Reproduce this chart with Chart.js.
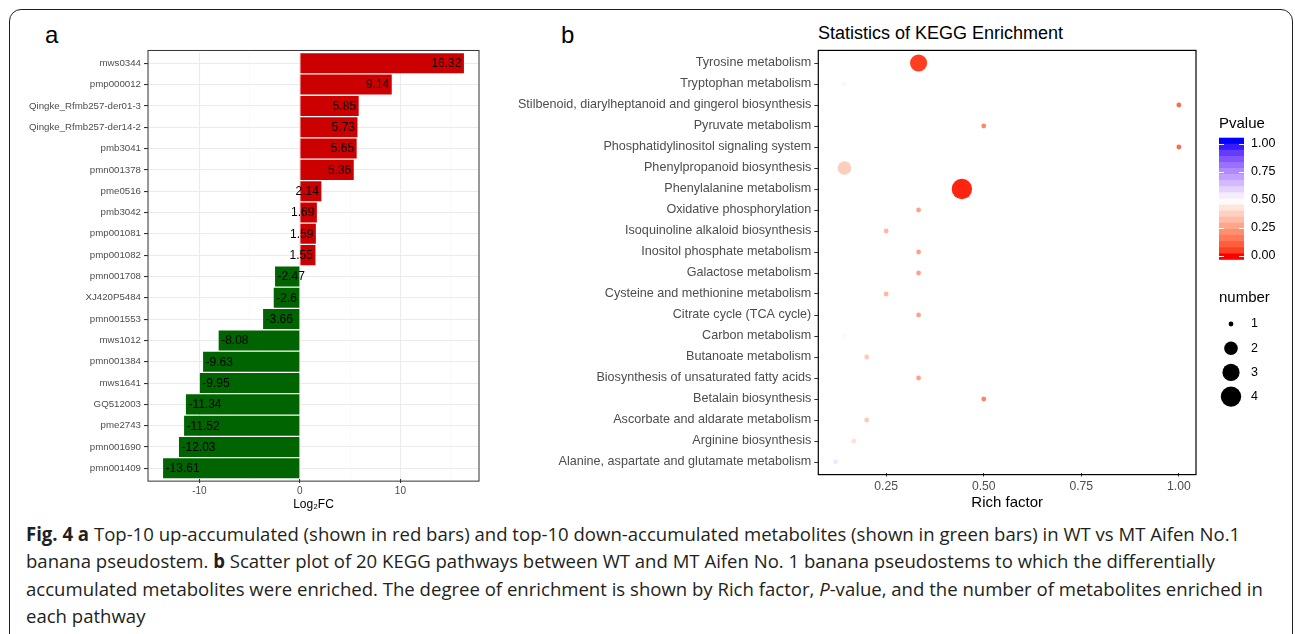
<!DOCTYPE html>
<html>
<head>
<meta charset="utf-8">
<script src="https://cdn.jsdelivr.net/npm/chart.js@4"></script>
<style>
  body { margin: 0; width: 1295px; height: 634px; overflow: hidden; background: #fff; position: relative;
         font-family: "Liberation Sans", Arial, sans-serif; }
  #frame { position: absolute; left: 9px; top: 8.5px; width: 1284px; height: 640px; box-sizing: border-box;
           border: 1.5px solid #231f20; border-radius: 12px; }
  .panel-lab { position: absolute; font-size: 24px; line-height: 24px; color: #000; }
  #titleB { position: absolute; left: 818px; top: 24px; font-size: 18px; line-height: 18px; color: #000; white-space: nowrap; }
  canvas { position: absolute; }
  #caption { position: absolute; left: 26px; top: 521px; font-family: "Open Sans", sans-serif; font-size: 19px;
             line-height: 27.3px; color: #231f20; white-space: nowrap; transform-origin: 0 0; transform: scaleX(0.9775); }
  #caption span { display: inline-block; }
</style>
</head>
<body>
<div id="frame"></div>
<div class="panel-lab" style="left:45px; top:22.7px;">a</div>
<div class="panel-lab" style="left:561px; top:22.7px;">b</div>
<div id="titleB">Statistics of KEGG Enrichment</div>
<canvas id="barA" width="495" height="480" style="left:0; top:40px;"></canvas>
<canvas id="dotB" width="795" height="480" style="left:500px; top:40px;"></canvas>
<div id="caption">
  <div><span id="cap1"><b>Fig. 4 a</b> Top-10 up-accumulated (shown in red bars) and top-10 down-accumulated metabolites (shown in green bars) in WT vs MT Aifen No.1</span></div>
  <div><span>banana pseudostem. <b>b</b> Scatter plot of 20 KEGG pathways between WT and MT Aifen No. 1 banana pseudostems to which the differentially</span></div>
  <div><span>accumulated metabolites were enriched. The degree of enrichment is shown by Rich factor, <i>P</i>-value, and the number of metabolites enriched in</span></div>
  <div><span>each pathway</span></div>
</div>
<script>
// ---- panel a data ----
const metabolites = ["mws0344", "pmp000012", "Qingke_Rfmb257-der01-3", "Qingke_Rfmb257-der14-2", "pmb3041",
  "pmn001378", "pme0516", "pmb3042", "pmp001081", "pmp001082", "pmn001708", "XJ420P5484", "pmn001553",
  "mws1012", "pmn001384", "mws1641", "GQ512003", "pme2743", "pmn001690", "pmn001409"];
const log2fc = [16.32, 9.14, 5.85, 5.73, 5.65, 5.36, 2.14, 1.69, 1.59, 1.55,
  -2.47, -2.6, -3.66, -8.08, -9.63, -9.95, -11.34, -11.52, -12.03, -13.61];
const gridTicksA = [-15, -10, -5, 0, 5, 10, 15];
const labelTicksA = [-10, 0, 10];

// ---- panel b data ----
const pathways = ["Tyrosine metabolism", "Tryptophan metabolism",
  "Stilbenoid, diarylheptanoid and gingerol biosynthesis", "Pyruvate metabolism",
  "Phosphatidylinositol signaling system", "Phenylpropanoid biosynthesis", "Phenylalanine metabolism",
  "Oxidative phosphorylation", "Isoquinoline alkaloid biosynthesis", "Inositol phosphate metabolism",
  "Galactose metabolism", "Cysteine and methionine metabolism", "Citrate cycle (TCA cycle)",
  "Carbon metabolism", "Butanoate metabolism", "Biosynthesis of unsaturated fatty acids",
  "Betalain biosynthesis", "Ascorbate and aldarate metabolism", "Arginine biosynthesis",
  "Alanine, aspartate and glutamate metabolism"];
const richFactor = [0.333, 0.143, 1.0, 0.5, 1.0, 0.143, 0.444, 0.333, 0.25, 0.333,
  0.333, 0.25, 0.333, 0.143, 0.2, 0.333, 0.5, 0.2, 0.167, 0.12];
const pValue = [0.05, 0.48, 0.13, 0.19, 0.13, 0.37, 0.02, 0.26, 0.31, 0.26,
  0.26, 0.31, 0.26, 0.48, 0.36, 0.26, 0.19, 0.36, 0.42, 0.55];
const numberHits = [3, 1, 1, 1, 1, 2, 4, 1, 1, 1, 1, 1, 1, 1, 1, 1, 1, 1, 1, 1];
const xTicksB = [0.25, 0.5, 0.75, 1.0];
const pTicks = [0, 0.25, 0.5, 0.75, 1.0];
const numberKeys = [1, 2, 3, 4];

const FONT = '"Liberation Sans", Arial, sans-serif';
const RADIUS = {1: 2.4, 2: 6.8, 3: 8.6, 4: 10.2};

// red - white - blue gradient through Lab, like ggplot's gradient2
function lin(c) { c /= 255; return c <= 0.04045 ? c / 12.92 : Math.pow((c + 0.055) / 1.055, 2.4); }
function unlin(c) { c = c <= 0.0031308 ? 12.92 * c : 1.055 * Math.pow(c, 1 / 2.4) - 0.055; return Math.round(Math.max(0, Math.min(1, c)) * 255); }
function toLab(rgb) {
  const r = lin(rgb[0]), g = lin(rgb[1]), b = lin(rgb[2]);
  const X = (0.4124 * r + 0.3576 * g + 0.1805 * b) / 0.95047, Y = 0.2126 * r + 0.7152 * g + 0.0722 * b,
        Z = (0.0193 * r + 0.1192 * g + 0.9505 * b) / 1.08883;
  const f = t => t > 0.008856 ? Math.cbrt(t) : 7.787 * t + 16 / 116;
  return [116 * f(Y) - 16, 500 * (f(X) - f(Y)), 200 * (f(Y) - f(Z))];
}
function fromLab(L, a, bb) {
  const fy = (L + 16) / 116, fx = fy + a / 500, fz = fy - bb / 200;
  const fi = t => t * t * t > 0.008856 ? t * t * t : (t - 16 / 116) / 7.787;
  const X = 0.95047 * fi(fx), Y = fi(fy), Z = 1.08883 * fi(fz);
  return 'rgb(' + unlin(3.2406 * X - 1.5372 * Y - 0.4986 * Z) + ',' + unlin(-0.9689 * X + 1.8758 * Y + 0.0415 * Z) + ','
    + unlin(0.0557 * X - 0.2040 * Y + 1.0570 * Z) + ')';
}
const LAB_LOW = toLab([255, 0, 0]), LAB_MID = toLab([255, 255, 255]), LAB_HIGH = toLab([0, 0, 255]);
function pColour(p) {
  p = Math.max(0, Math.min(1, p));
  const from = p <= 0.5 ? LAB_LOW : LAB_MID, to = p <= 0.5 ? LAB_MID : LAB_HIGH;
  const t = p <= 0.5 ? p / 0.5 : (p - 0.5) / 0.5;
  return fromLab(from[0] + (to[0] - from[0]) * t, from[1] + (to[1] - from[1]) * t, from[2] + (to[2] - from[2]) * t);
}

// panel border, stretched a little past the category offset like ggplot's 0.6 expansion
function framePlugin(colour, width) {
  return {
    id: 'frame',
    afterDatasetsDraw(chart) {
      const a = chart.chartArea, ctx = chart.ctx;
      const ext = 0.1 * (a.bottom - a.top) / chart.scales.y.ticks.length;
      ctx.save();
      ctx.strokeStyle = colour; ctx.lineWidth = width;
      ctx.strokeRect(a.left, a.top - ext, a.right - a.left, a.bottom - a.top + 2 * ext);
      ctx.restore();
    }
  };
}

const barValueLabels = {
  id: 'barValueLabels',
  afterDatasetsDraw(chart) {
    const ctx = chart.ctx;
    ctx.save();
    ctx.font = '12px ' + FONT; ctx.fillStyle = '#000'; ctx.textBaseline = 'middle';
    chart.getDatasetMeta(0).data.forEach((bar, i) => {
      const v = log2fc[i];
      ctx.textAlign = v > 0 ? 'right' : 'left';
      ctx.fillText(String(v), bar.x + (v > 0 ? -2.5 : 2.5), bar.y + 0.5);
    });
    ctx.restore();
  }
};

new Chart(document.getElementById('barA'), {
  type: 'bar',
  data: {
    labels: metabolites,
    datasets: [{
      data: log2fc,
      backgroundColor: log2fc.map(v => v > 0 ? '#CC0000' : '#006400'),
      borderWidth: 0, barPercentage: 0.94, categoryPercentage: 1
    }]
  },
  options: {
    indexAxis: 'y', responsive: false, animation: false, devicePixelRatio: 1, events: [],
    layout: { padding: { top: 12.6, bottom: 7.8, left: 0, right: 16 } },
    plugins: { legend: { display: false }, tooltip: { enabled: false } },
    scales: {
      x: {
        type: 'linear', min: -15.11, max: 17.82,
        afterBuildTicks: s => { s.ticks = gridTicksA.map(v => ({ value: v })); },
        afterFit: s => { s.height = 33.2; },
        border: { display: false },
        grid: {
          color: c => labelTicksA.includes(c.tick.value) ? '#EBEBEB' : '#F5F5F5',
          lineWidth: c => labelTicksA.includes(c.tick.value) ? 1.1 : 0.6,
          tickLength: 4,
          tickColor: c => labelTicksA.includes(c.tick.value) ? '#333' : 'rgba(0,0,0,0)'
        },
        ticks: {
          callback: v => labelTicksA.includes(v) ? String(v) : '',
          color: '#4D4D4D', font: { family: FONT, size: 10 }, padding: 2, maxRotation: 0, autoSkip: false
        },
        title: { display: true, text: 'Log₂FC', color: '#000', font: { family: FONT, size: 12 }, padding: 0 }
      },
      y: {
        afterFit: s => { s.width = 148; },
        border: { display: false },
        grid: { offset: false, color: '#EBEBEB', lineWidth: 1.1, tickLength: 4, tickColor: '#333' },
        ticks: { color: '#4D4D4D', font: { family: FONT, size: 9.7 }, padding: 3, autoSkip: false }
      }
    }
  },
  plugins: [framePlugin('#333', 1), barValueLabels]
});

// colour bar + size legend for panel b
const legendB = {
  id: 'legendB',
  afterDraw(chart) {
    const ctx = chart.ctx;
    const bx = 719, bw = 25, top = 97.7, bottom = 219.3, zeroY = 216, unit = 112;
    ctx.save();
    ctx.fillStyle = '#000'; ctx.textBaseline = 'middle'; ctx.textAlign = 'left';
    ctx.font = '15px ' + FONT;
    ctx.fillText('Pvalue', bx, 84);
    const nbin = 20, h = (bottom - top) / nbin;
    for (let i = 0; i < nbin; i++) {
      const y0 = top + i * h;
      ctx.fillStyle = pColour((zeroY - (y0 + h / 2)) / unit);
      ctx.fillRect(bx, y0, bw, h + 0.5);
    }
    ctx.font = '12.5px ' + FONT;
    pTicks.forEach(p => {
      const y = Math.round(zeroY - p * unit) + 0.5;
      ctx.strokeStyle = 'rgba(255,255,255,0.9)'; ctx.lineWidth = 1;
      ctx.beginPath();
      ctx.moveTo(bx, y); ctx.lineTo(bx + 5, y);
      ctx.moveTo(bx + bw - 5, y); ctx.lineTo(bx + bw, y);
      ctx.stroke();
      ctx.fillStyle = '#000';
      ctx.fillText(p.toFixed(2), bx + 32, zeroY - p * unit);
    });
    ctx.font = '15px ' + FONT;
    ctx.fillText('number', bx, 258);
    ctx.font = '12.5px ' + FONT;
    numberKeys.forEach((n, i) => {
      const y = 284 + i * 24.2;
      ctx.fillStyle = '#000';
      ctx.beginPath(); ctx.arc(bx + 12, y, RADIUS[n], 0, Math.PI * 2); ctx.fill();
      ctx.fillText(String(n), bx + 32, y);
    });
    ctx.restore();
  }
};

new Chart(document.getElementById('dotB'), {
  type: 'scatter',
  data: {
    datasets: [{
      data: pathways.map((p, i) => ({ x: richFactor[i], y: p })),
      pointRadius: c => RADIUS[numberHits[c.dataIndex]],
      pointBackgroundColor: c => pColour(pValue[c.dataIndex]),
      pointBorderWidth: 0
    }]
  },
  options: {
    responsive: false, animation: false, devicePixelRatio: 1, events: [],
    layout: { padding: { top: 12.5, bottom: 8, left: 0, right: 99 } },
    plugins: { legend: { display: false }, tooltip: { enabled: false } },
    scales: {
      x: {
        type: 'linear', min: 0.076, max: 1.044,
        afterBuildTicks: s => { s.ticks = xTicksB.map(v => ({ value: v })); },
        afterFit: s => { s.height = 39.5; },
        border: { display: false },
        grid: { drawOnChartArea: false, tickLength: 4, tickColor: '#333' },
        ticks: { callback: v => v.toFixed(2), color: '#4D4D4D', font: { family: FONT, size: 12.2 }, padding: 3, maxRotation: 0 },
        title: { display: true, text: 'Rich factor', color: '#000', font: { family: FONT, size: 15 }, padding: 0 }
      },
      y: {
        type: 'category', labels: pathways, offset: true,
        afterFit: s => { s.width = 318.3; },
        border: { display: false },
        grid: { drawOnChartArea: false, offset: false, tickLength: 4, tickColor: '#333' },
        ticks: { color: '#4D4D4D', font: { family: FONT, size: 12.6 }, padding: 3, autoSkip: false }
      }
    }
  },
  plugins: [framePlugin('#000', 1.2), legendB]
});

// squeeze caption to the width of the original condensed face (offsetWidth ignores the transform)
function fitCaption() {
  const w = document.getElementById('cap1').offsetWidth;
  if (w > 0) document.getElementById('caption').style.transform = 'scaleX(' + (1214 / w) + ')';
}
fitCaption();
if (document.fonts) document.fonts.ready.then(fitCaption);
</script>
</body>
</html>
